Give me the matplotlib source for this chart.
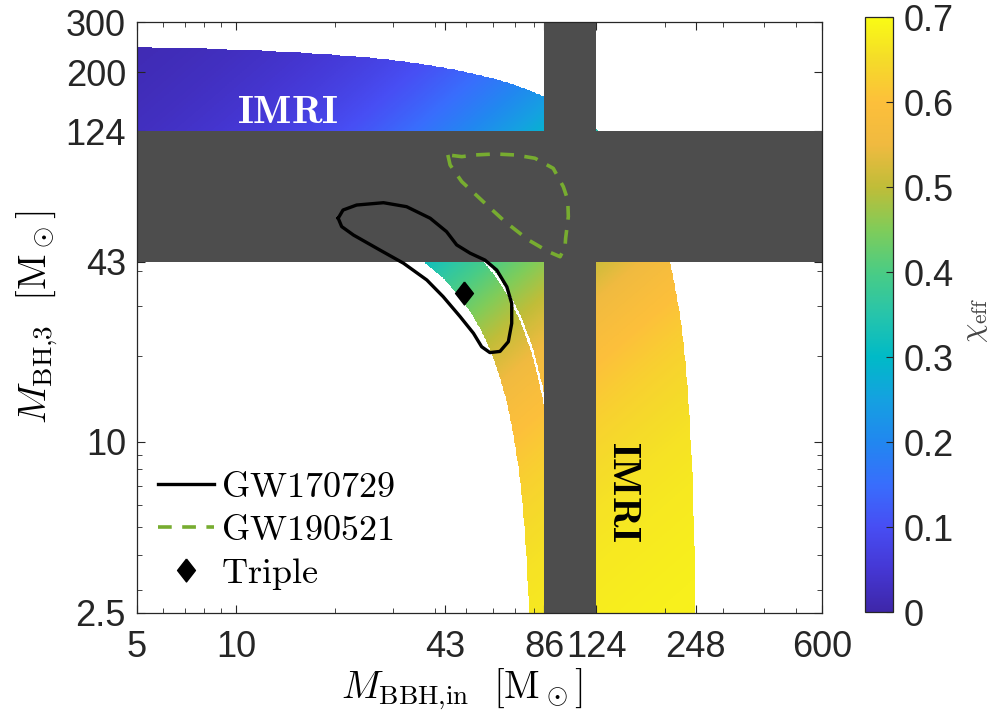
import numpy as np
import matplotlib
matplotlib.use('Agg')
import matplotlib.pyplot as plt
from matplotlib.colors import LinearSegmentedColormap
from matplotlib.ticker import NullFormatter

# ---------------- data ----------------
x_ticks = [5, 10, 43, 86, 124, 248, 600]
y_ticks = [2.5, 10, 43, 124, 200, 300]
cbar_ticks = [0, 0.1, 0.2, 0.3, 0.4, 0.5, 0.6, 0.7]
x_range = [5, 600]
y_range = [2.5, 300]

gap_low = 43      # pair-instability gap lower edge [Msun]
gap_high = 124    # pair-instability gap upper edge [Msun]
total_mass_min = 80
total_mass_max = 250
total_mass_split = 100
remnant_spin = 0.69

gw170729_mbbh = [20.4, 21.1, 23.2, 28.0, 32.9, 38.8, 43.5, 46.7, 51.3, 56.9, 61.8, 66.3,
                 68.6, 68.6, 67.0, 63.2, 58.9, 55.6, 52.5, 47.8, 42.5, 37.9, 32.2, 27.3,
                 22.7, 20.9, 20.4]
gw170729_m3 = [61.2, 65.4, 68.1, 69.4, 67.2, 61.2, 54.9, 49.3, 46.1, 43.6, 40.2, 35.1,
               30.7, 26.1, 22.5, 20.8, 20.6, 21.6, 24.1, 27.6, 32.4, 37.1, 42.5, 47.3,
               53.4, 57.2, 61.2]

gw190521_mbbh = [43.9, 44.6, 48.4, 56.9, 65.5, 77.1, 88.6, 96.2, 99.6, 100.0, 101.9,
                 101.5, 98.4, 91.7, 80.7, 70.2, 61.1, 53.1, 48.4, 43.9]
gw190521_m3 = [102.2, 94.2, 82.3, 69.1, 59.5, 51.3, 46.7, 44.8, 48.6, 52.0, 62.0,
               71.0, 79.0, 91.7, 99.5, 102.2, 103.0, 102.2, 100.8, 102.2]

triple_mbbh = [49.1]
triple_m3 = [33.5]

# ---------------- style ----------------
parula_anchors = [
    (0.000, (0.2422, 0.1504, 0.6603)),
    (0.071, (0.2700, 0.2150, 0.8300)),
    (0.143, (0.2800, 0.3050, 0.9550)),
    (0.214, (0.2200, 0.4300, 0.9900)),
    (0.286, (0.1300, 0.5300, 0.9400)),
    (0.357, (0.0800, 0.6300, 0.8800)),
    (0.429, (0.0000, 0.7300, 0.7800)),
    (0.500, (0.1500, 0.7700, 0.6700)),
    (0.571, (0.2900, 0.8000, 0.5200)),
    (0.643, (0.5000, 0.8000, 0.3500)),
    (0.714, (0.7500, 0.7400, 0.2200)),
    (0.786, (0.9400, 0.7300, 0.2500)),
    (0.857, (0.9900, 0.7500, 0.2300)),
    (0.929, (0.9600, 0.8600, 0.1600)),
    (1.000, (0.9769, 0.9839, 0.0805)),
]
parula = LinearSegmentedColormap.from_list('parula', parula_anchors, N=512)

plt.rcParams['font.family'] = ['Liberation Sans', 'DejaVu Sans']
plt.rcParams['mathtext.fontset'] = 'cm'
axis_color = '#262626'
band_color = '#4d4d4d'
green = '#77AC30'
fs = 26
fs_cm = 28
fs_leg = 26

fig = plt.figure(figsize=(10, 7.11), dpi=100)
ax = fig.add_axes([0.137, 0.138, 0.685, 0.831])
ax.set_xscale('log')
ax.set_yscale('log')
ax.set_xlim(*x_range)
ax.set_ylim(*y_range)

# colour field: chi_eff of remnant (spin a) + non-spinning BH
xe = np.geomspace(x_range[0], x_range[1], 1001)
ye = np.geomspace(y_range[0], y_range[1], 901)
xc = np.sqrt(xe[:-1] * xe[1:])
yc = np.sqrt(ye[:-1] * ye[1:])
XC, YC = np.meshgrid(xc, yc)
MT = XC + YC
chi = remnant_spin * XC / MT
mask = (MT < total_mass_min) | (MT > total_mass_max) | (np.abs(MT - total_mass_split) < 0.7)
chi = np.ma.array(chi, mask=mask)
mesh = ax.pcolormesh(xe, ye, chi, cmap=parula, vmin=0, vmax=0.7,
                     shading='flat', rasterized=True, zorder=1)

ax.axhspan(gap_low, gap_high, color=band_color, lw=0, zorder=2)
ax.axvspan(gap_low * 2, gap_high, color=band_color, lw=0, zorder=2)

ax.plot(gw170729_mbbh, gw170729_m3, color='k', lw=2.4, zorder=4,
        solid_joinstyle='round', label=r'$\mathrm{GW170729}$')
ax.plot(gw190521_mbbh, gw190521_m3, color=green, lw=2.6, dashes=(3.8, 2.9),
        zorder=4, label=r'$\mathrm{GW190521}$')
diamond = [(0, 1), (0.78, 0), (0, -1), (-0.78, 0), (0, 1)]
ax.plot(triple_mbbh, triple_m3, ls='none', marker=diamond, ms=16.5, color='k',
        zorder=5, label=r'$\mathrm{Triple}$')

ax.text(14.3, 144.7, r'$\mathbf{IMRI}$', color='white', fontsize=29,
        ha='center', va='center', zorder=6)
ax.text(150, 6.66, r'$\mathbf{IMRI}$', color='black', fontsize=29,
        ha='center', va='center', rotation=-90, zorder=6)

leg = ax.legend(loc='lower left', bbox_to_anchor=(0.031, 0.036), frameon=False,
                fontsize=fs_leg, handlelength=1.55, handletextpad=0.18,
                labelspacing=0.22, borderpad=0, borderaxespad=0)
leg.set_zorder(7)

ax.set_xticks(x_ticks)
ax.set_xticklabels([f'{v:g}' for v in x_ticks])
ax.set_yticks(y_ticks)
ax.set_yticklabels([f'{v:g}' for v in y_ticks])
ax.xaxis.set_minor_formatter(NullFormatter())
ax.yaxis.set_minor_formatter(NullFormatter())
ax.tick_params(which='both', direction='in', top=True, right=True,
               colors=axis_color, labelsize=fs)
ax.tick_params(which='major', length=6, width=0.8)
ax.tick_params(which='minor', length=3.5, width=0.6)
ax.tick_params(axis='x', pad=12)
ax.tick_params(axis='y', pad=8)
for sp in ax.spines.values():
    sp.set_color(axis_color)
    sp.set_linewidth(0.9)
    sp.set_zorder(8)

ax.set_xlabel(r'$M_{\rm BBH{,}in}\ \ [{\rm M}_\odot]$', fontsize=fs_cm)
ax.xaxis.set_label_coords(0.474, -0.09)
ax.set_ylabel(r'$M_{\rm BH{,}3}\ \ [{\rm M}_\odot]$', fontsize=fs_cm)
ax.yaxis.set_label_coords(-0.113, 0.5)

cax = fig.add_axes([0.865, 0.139, 0.028, 0.837])
cb = fig.colorbar(mesh, cax=cax, ticks=cbar_ticks)
cb.ax.set_yticklabels([f'{v:g}' for v in cbar_ticks])
cax.tick_params(direction='in', length=5, width=0.8, labelsize=fs, pad=8,
                colors=axis_color)
cb.outline.set_edgecolor(axis_color)
cb.outline.set_linewidth(0.9)
cax.set_ylabel(r'$\chi_{\rm eff}$', fontsize=22, color='#444444', rotation=90)
cax.yaxis.set_label_coords(3.4, 0.49)

fig.savefig('out.png', dpi=100)
